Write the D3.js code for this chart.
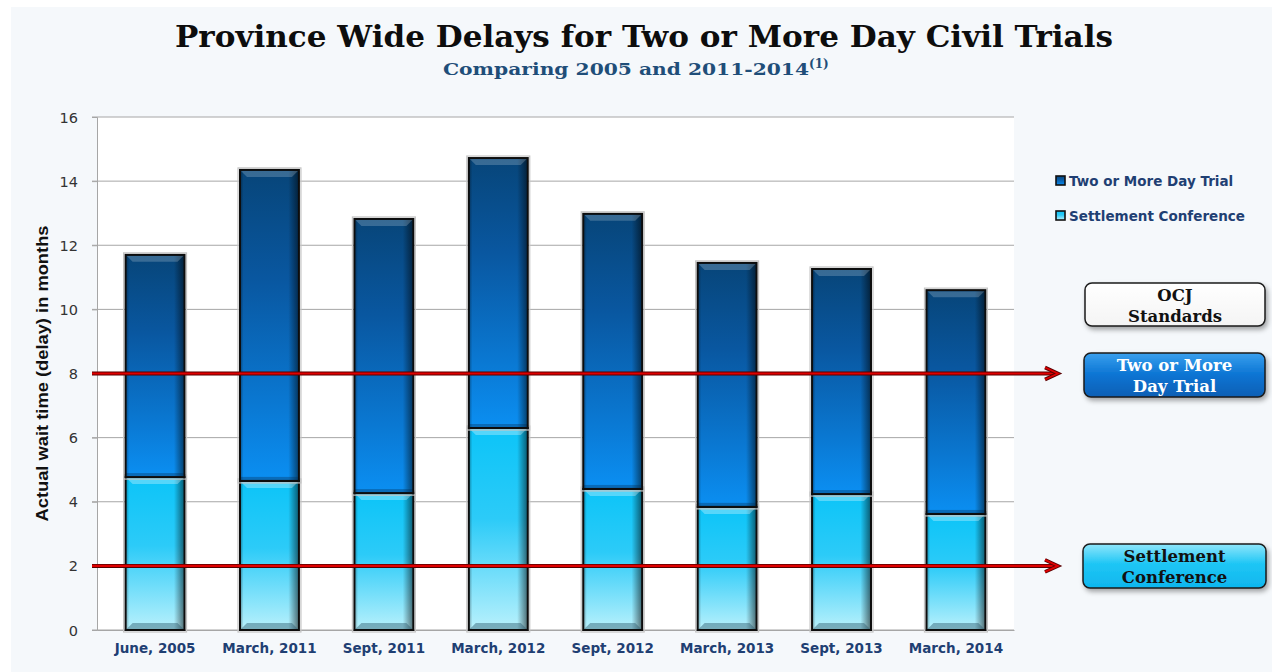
<!DOCTYPE html>
<html>
<head>
<meta charset="utf-8">
<script src="https://cdn.jsdelivr.net/npm/d3@7/dist/d3.min.js"></script>
<style>
  html, body { margin: 0; padding: 0; background: #ffffff; }
  svg { display: block; }
</style>
</head>
<body>
<svg id="chart" width="1272" height="672"></svg>
<script>
// Reporting periods along the x axis
const categories = ["June, 2005", "March, 2011", "Sept, 2011", "March, 2012",
                    "Sept, 2012", "March, 2013", "Sept, 2013", "March, 2014"];
// Months from filing to settlement conference (lower segment)
const settlementConference = [4.77, 4.65, 4.27, 6.30, 4.40, 3.84, 4.24, 3.62];
// Further months from settlement conference to a two-or-more-day trial (upper segment)
const twoOrMoreDayTrial = [6.93, 9.70, 8.55, 8.42, 8.58, 7.61, 7.02, 6.98];
// Y axis ticks
const yTicks = [0, 2, 4, 6, 8, 10, 12, 14, 16];
// OCJ standards (months)
const standardTrial = 8;
const standardSettlement = 2;

const svg = d3.select("#chart");
const W = 1272, H = 672;
const plot = { left: 97, right: 1014, top: 117, bottom: 630 };

// ---------- gradients ----------
const defs = svg.append("defs");
function vGrad(id, stops) {
  const g = defs.append("linearGradient").attr("id", id)
    .attr("x1", 0).attr("y1", 0).attr("x2", 0).attr("y2", 1);
  stops.forEach(([o, c, op]) => g.append("stop").attr("offset", o).attr("stop-color", c)
    .attr("stop-opacity", op == null ? 1 : op));
}
function hGrad(id, stops) {
  const g = defs.append("linearGradient").attr("id", id)
    .attr("x1", 0).attr("y1", 0).attr("x2", 1).attr("y2", 0);
  stops.forEach(([o, c, op]) => g.append("stop").attr("offset", o).attr("stop-color", c)
    .attr("stop-opacity", op == null ? 1 : op));
}
vGrad("gTrial", [[0, "#074579"], [0.35, "#0957a0"], [0.75, "#0a78d2"], [1, "#0b8ff2"]]);
vGrad("gSettle", [[0, "#0cc4f8"], [0.45, "#2ccbf8"], [1, "#b9f1fc"]]);
hGrad("gEdge", [[0, "#000", 0.35], [0.06, "#000", 0.0], [0.82, "#000", 0.0], [1, "#000", 0.55]]);
vGrad("gBoxTrial", [[0, "#3aa0ee"], [0.5, "#0b74d3"], [1, "#0b5fb4"]]);
vGrad("gBoxSettle", [[0, "#8fe6fb"], [0.45, "#1ec6f5"], [1, "#0fb6ee"]]);
vGrad("gBoxWhite", [[0, "#ffffff"], [1, "#f4f4f4"]]);

const shadow = defs.append("filter").attr("id", "shadow")
  .attr("x", "-10%").attr("y", "-20%").attr("width", "130%").attr("height", "160%");
shadow.append("feDropShadow").attr("dx", 2).attr("dy", 3).attr("stdDeviation", 2.5)
  .attr("flood-color", "#000").attr("flood-opacity", 0.35);

// ---------- background ----------
svg.append("rect").attr("width", W).attr("height", H).attr("fill", "#ffffff");
svg.append("rect").attr("x", 11).attr("y", 7).attr("width", W - 11).attr("height", H - 7)
  .attr("fill", "#f5f8fb");
svg.append("rect").attr("x", plot.left).attr("y", plot.top)
  .attr("width", plot.right - plot.left).attr("height", plot.bottom - plot.top)
  .attr("fill", "#ffffff");

// ---------- scales ----------
const x = d3.scaleBand().domain(categories).range([plot.left, plot.right])
  .paddingInner(0.485).paddingOuter(0.25);
const y = d3.scaleLinear().domain([0, 16]).range([plot.bottom, plot.top]);

// ---------- grid & axes ----------
svg.append("g").selectAll("line").data(yTicks).join("line")
  .attr("x1", plot.left - 5).attr("x2", plot.right)
  .attr("y1", d => y(d)).attr("y2", d => y(d))
  .attr("stroke", "#a6a6a6").attr("stroke-width", 1);

const yAxis = svg.append("g").attr("transform", `translate(${plot.left},0)`)
  .call(d3.axisLeft(y).tickValues(yTicks).tickSize(5).tickPadding(14));
yAxis.select(".domain").attr("stroke", "#a6a6a6");
yAxis.selectAll(".tick line").attr("stroke", "#a6a6a6");
yAxis.selectAll("text").attr("font-family", "DejaVu Sans, Verdana, sans-serif")
  .attr("font-size", 14.5).attr("fill", "#333").attr("dy", "0.35em");

const xAxis = svg.append("g").attr("transform", `translate(0,${plot.bottom})`)
  .call(d3.axisBottom(x).tickSize(0).tickPadding(13));
xAxis.select(".domain").attr("stroke", "#a6a6a6");
xAxis.selectAll("text").attr("font-family", "DejaVu Sans, Verdana, sans-serif")
  .attr("font-weight", "bold").attr("font-size", 13.5).attr("fill", "#1f3f73");

// y axis title
svg.append("text")
  .attr("transform", `translate(48,${(plot.top + plot.bottom) / 2}) rotate(-90)`)
  .attr("text-anchor", "middle")
  .attr("font-family", "Liberation Sans Narrow, Arial Narrow, Liberation Sans, sans-serif")
  .attr("font-weight", "bold").attr("font-size", 17).attr("fill", "#111")
  .attr("textLength", 296).attr("lengthAdjust", "spacingAndGlyphs")
  .text("Actual wait time (delay) in months");

// ---------- stacked bars ----------
const rows = categories.map((c, i) => ({
  cat: c, settlement: settlementConference[i], trial: twoOrMoreDayTrial[i]
}));
const stack = d3.stack().keys(["settlement", "trial"])(rows);
const fills = { settlement: "url(#gSettle)", trial: "url(#gTrial)" };

const bw = x.bandwidth();
stack.forEach(layer => {
  const g = svg.append("g");
  layer.forEach(seg => {
    const x0 = x(seg.data.cat);
    const yTop = y(seg[1]), yBot = y(seg[0]);
    const h = yBot - yTop;
    // light halo
    g.append("rect").attr("x", x0 - 2).attr("y", yTop - 2)
      .attr("width", bw + 4).attr("height", h + 4)
      .attr("fill", "none").attr("stroke", "#c4c4c4").attr("stroke-width", 1.2);
    g.append("rect").attr("x", x0).attr("y", yTop).attr("width", bw).attr("height", h)
      .attr("fill", fills[layer.key]);
    g.append("rect").attr("x", x0).attr("y", yTop).attr("width", bw).attr("height", h)
      .attr("fill", "url(#gEdge)");
    // top bevel
    const b = 7;
    g.append("path")
      .attr("d", `M${x0 + 1},${yTop + 1}H${x0 + bw - 1}L${x0 + bw - b},${yTop + b}H${x0 + b}Z`)
      .attr("fill", "#ffffff").attr("fill-opacity", layer.key === "trial" ? 0.2 : 0.3);
    if (layer.key === "settlement") {
      // bottom bevel
      g.append("path")
        .attr("d", `M${x0 + 1},${yBot - 1}H${x0 + bw - 1}L${x0 + bw - b},${yBot - b}H${x0 + b}Z`)
        .attr("fill", "#2c5a6e").attr("fill-opacity", 0.45);
    } else {
      // dark seam above the lower segment
      g.append("rect").attr("x", x0).attr("y", yBot - 4).attr("width", bw).attr("height", 4)
        .attr("fill", "#062c4f").attr("fill-opacity", 0.35);
    }
    g.append("rect").attr("x", x0).attr("y", yTop).attr("width", bw).attr("height", h)
      .attr("fill", "none").attr("stroke", "#0d0d0d").attr("stroke-width", 2);
  });
});

// ---------- standard lines with arrows ----------
function standardArrow(v) {
  const yy = y(v);
  const g = svg.append("g");
  const x1 = plot.left - 5, x2 = 1058;
  g.append("line").attr("x1", x1).attr("x2", x2 - 2).attr("y1", yy).attr("y2", yy)
    .attr("stroke", "#5a0000").attr("stroke-width", 4);
  g.append("line").attr("x1", x1).attr("x2", x2 - 2).attr("y1", yy).attr("y2", yy)
    .attr("stroke", "#e00000").attr("stroke-width", 2.2);
  g.append("path").attr("d", `M${x2 - 13},${yy - 6}L${x2},${yy}L${x2 - 13},${yy + 6}`)
    .attr("fill", "none").attr("stroke", "#5a0000").attr("stroke-width", 3.6)
    .attr("stroke-linejoin", "miter");
  g.append("path").attr("d", `M${x2 - 13},${yy - 6}L${x2},${yy}L${x2 - 13},${yy + 6}`)
    .attr("fill", "none").attr("stroke", "#e00000").attr("stroke-width", 1.8)
    .attr("stroke-linejoin", "miter");
}
standardArrow(standardTrial);
standardArrow(standardSettlement);

// ---------- legend ----------
const legendItems = [
  { label: "Two or More Day Trial", fill: "url(#gTrial)", y: 181 },
  { label: "Settlement Conference", fill: "url(#gSettle)", y: 216 }
];
const lg = svg.append("g");
legendItems.forEach(it => {
  lg.append("rect").attr("x", 1056).attr("y", it.y - 5).attr("width", 9).attr("height", 9)
    .attr("fill", it.fill).attr("stroke", "#111").attr("stroke-width", 1.6);
  lg.append("text").attr("x", 1069).attr("y", it.y + 5)
    .attr("font-family", "DejaVu Sans, Verdana, sans-serif").attr("font-weight", "bold")
    .attr("font-size", 13.5).attr("fill", "#1f3f73").text(it.label);
});

// ---------- standards boxes ----------
const boxes = [
  { lines: ["OCJ", "Standards"], x: 1085, y: 283, w: 180, h: 43, fill: "url(#gBoxWhite)", color: "#111" },
  { lines: ["Two or More", "Day Trial"], x: 1084, y: 353, w: 181, h: 44, fill: "url(#gBoxTrial)", color: "#ffffff" },
  { lines: ["Settlement", "Conference"], x: 1083, y: 544, w: 183, h: 44, fill: "url(#gBoxSettle)", color: "#111" }
];
boxes.forEach(b => {
  const g = svg.append("g");
  g.append("rect").attr("x", b.x).attr("y", b.y).attr("width", b.w).attr("height", b.h)
    .attr("rx", 7).attr("fill", b.fill).attr("stroke", "#1a1a1a").attr("stroke-width", 1.5)
    .attr("filter", "url(#shadow)");
  b.lines.forEach((t, i) => {
    g.append("text").attr("x", b.x + b.w / 2).attr("y", b.y + 18 + i * 21)
      .attr("text-anchor", "middle")
      .attr("font-family", "DejaVu Serif, Liberation Serif, serif").attr("font-weight", "bold")
      .attr("font-size", 16.5).attr("fill", b.color).text(t);
  });
});

// ---------- titles ----------
svg.append("text").attr("x", 644).attr("y", 47).attr("text-anchor", "middle")
  .attr("font-family", "DejaVu Serif, Liberation Serif, serif").attr("font-weight", "bold")
  .attr("font-size", 29).attr("fill", "#0d0d0d")
  .attr("textLength", 938).attr("lengthAdjust", "spacingAndGlyphs")
  .text("Province Wide Delays for Two or More Day Civil Trials");

const sub = svg.append("text").attr("x", 443).attr("y", 75)
  .attr("font-family", "DejaVu Serif, Liberation Serif, serif").attr("font-weight", "bold")
  .attr("font-size", 17).attr("fill", "#1f4e79");
sub.append("tspan").attr("textLength", 366).attr("lengthAdjust", "spacingAndGlyphs")
  .text("Comparing 2005 and 2011-2014");
sub.append("tspan").attr("dy", -7).attr("font-size", 12).text("(1)");
</script>
</body>
</html>
